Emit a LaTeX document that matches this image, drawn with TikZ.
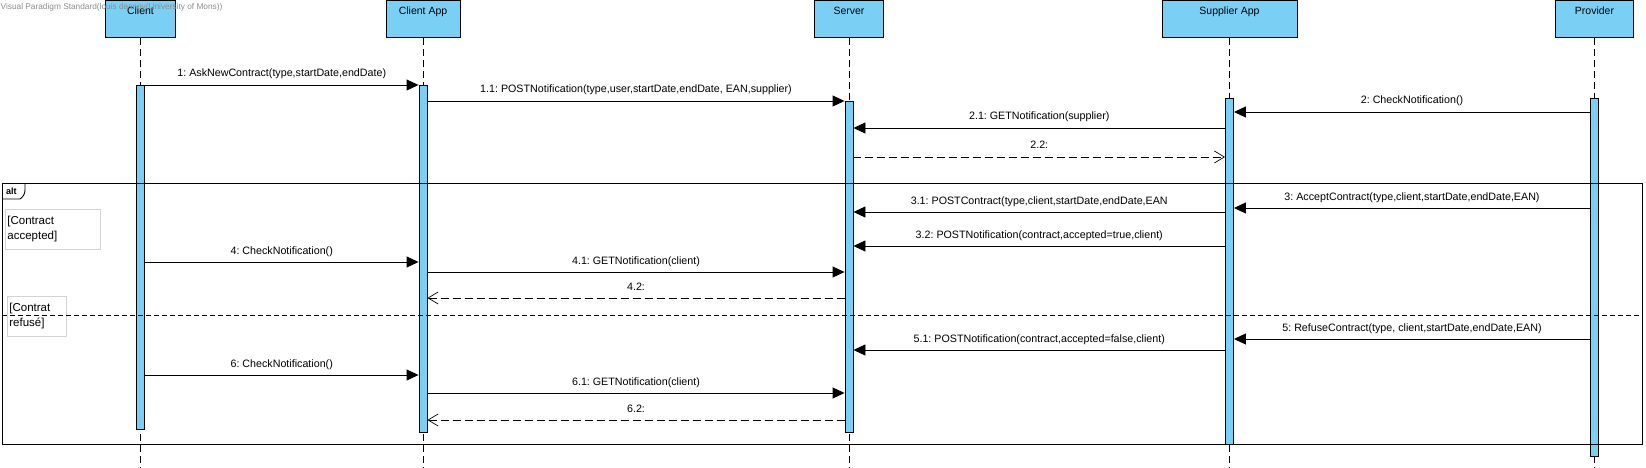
\documentclass[tikz,border=0pt]{standalone}
\usepackage{fontspec}
\setmainfont{Liberation Sans}
\usetikzlibrary{arrows.meta}
\definecolor{vpblue}{RGB}{122,207,245}
\definecolor{guardgray}{RGB}{212,212,212}
\definecolor{wmgray}{RGB}{140,140,140}
\frenchspacing
\begin{document}
\begin{tikzpicture}[x=1pt,y=-1pt,
  head/.style={draw=black, fill=vpblue, line width=0.9pt, anchor=north,
    minimum height=37pt, inner sep=0pt, text height=14pt, text depth=23pt,
    font=\fontsize{10.5}{12}\selectfont},
  life/.style={line width=0.8pt, dash pattern=on 7pt off 4pt},
  act/.style={draw=black, fill=vpblue, line width=0.9pt, inner sep=0pt, anchor=north, minimum width=8pt},
  syncmsg/.style={line width=0.9pt, -{Triangle[length=12pt,width=11pt]}},
  retmsg/.style={line width=0.8pt, dash pattern=on 8pt off 4pt, -{Straight Barb[length=10pt,width=12pt,line width=0.7pt]}},
  mlabel/.style={midway, anchor=base, yshift=8pt, inner sep=0pt, font=\fontsize{10.7}{12}\selectfont},
  guard/.style={draw=guardgray, fill=white, line width=0.8pt, anchor=north west, align=left,
    inner xsep=2pt, inner ysep=0pt, font=\fontsize{11.5}{15}\selectfont},
  sep/.style={line width=0.8pt, dash pattern=on 5pt off 3pt},
  frame/.style={line width=0.9pt}
]
\useasboundingbox (0,0) rectangle (1646,468);

% heads
\node[head, minimum width=70pt]  (hCl) at (140.5,0.5) {Client};
\node[head, minimum width=74pt]  (hCA) at (423,0.5) {Client App};
\node[head, minimum width=69pt]  (hSv) at (849,0.5) {Server};
\node[head, minimum width=135pt] (hSu) at (1229.5,0.5) {Supplier App};
\node[head, minimum width=78pt]  (hPr) at (1594.5,0.5) {Provider};

% lifelines
\foreach \h in {hCl,hCA,hSv,hSu,hPr}{
  \draw[life] (\h.south) -- (\h.south |- 0,470);
}

% activations
\node[act, minimum height=344pt] (aCl) at (140.5,85) {};
\node[act, minimum height=347pt] (aCA) at (423,85) {};
\node[act, minimum height=331pt] (aSv) at (849,101) {};
\node[act, minimum height=346pt] (aSu) at (1229.5,98) {};
\node[act, minimum height=358pt] (aPr) at (1594.5,98) {};

% watermark
\node[anchor=base west, inner sep=0pt, text=wmgray, font=\fontsize{8.3}{9}\selectfont] (wm) at (0.5,9.5)
  {Visual Paradigm Standard(louis dasnoy(University of Mons))};

% alt frame
\draw[frame] (2,183) rectangle (1642,444);
\draw[frame] (25,183) -- (25,190) .. controls (25,194) and (23,197) .. (20,199) -- (2,199);
\node[anchor=base west, inner sep=0pt, font=\bfseries\fontsize{9}{10}\selectfont] (altlbl) at (6,194) {alt};

% guards
\node[guard, minimum width=95pt, minimum height=40pt, text width=91pt] (g1) at (5,209) {[Contract\\accepted]};
\node[guard, minimum width=59pt, minimum height=40pt, text width=55pt] (g2) at (7,296) {[Contrat\\refusé]};

% separator
\draw[sep] (2,315) -- (1642,315);

% messages
\draw[syncmsg] (aCl.east |- 0,85) -- (aCA.west |- 0,85) node[mlabel] {1: AskNewContract(type,startDate,endDate)};
\draw[syncmsg] (aCA.east |- 0,101) -- (aSv.west |- 0,101) node[mlabel] {1.1: POSTNotification(type,user,startDate,endDate, EAN,supplier)};
\draw[syncmsg] (aPr.west |- 0,112) -- (aSu.east |- 0,112) node[mlabel] {2: CheckNotification()};
\draw[syncmsg] (aSu.west |- 0,128) -- (aSv.east |- 0,128) node[mlabel] {2.1: GETNotification(supplier)};
\draw[retmsg]  (aSv.east |- 0,157) -- (aSu.west |- 0,157) node[mlabel] {2.2:};

\draw[syncmsg] (aPr.west |- 0,208) -- (aSu.east |- 0,208) node[mlabel] {3: AcceptContract(type,client,startDate,endDate,EAN)};
\draw[syncmsg] (aSu.west |- 0,212) -- (aSv.east |- 0,212) node[mlabel] {3.1: POSTContract(type,client,startDate,endDate,EAN};
\draw[syncmsg] (aSu.west |- 0,246) -- (aSv.east |- 0,246) node[mlabel] {3.2: POSTNotification(contract,accepted=true,client)};
\draw[syncmsg] (aCl.east |- 0,262) -- (aCA.west |- 0,262) node[mlabel] {4: CheckNotification()};
\draw[syncmsg] (aCA.east |- 0,272) -- (aSv.west |- 0,272) node[mlabel] {4.1: GETNotification(client)};
\draw[retmsg]  (aSv.west |- 0,298) -- (aCA.east |- 0,298) node[mlabel] {4.2:};

\draw[syncmsg] (aPr.west |- 0,339) -- (aSu.east |- 0,339) node[mlabel] {5: RefuseContract(type, client,startDate,endDate,EAN)};
\draw[syncmsg] (aSu.west |- 0,350) -- (aSv.east |- 0,350) node[mlabel] {5.1: POSTNotification(contract,accepted=false,client)};
\draw[syncmsg] (aCl.east |- 0,375) -- (aCA.west |- 0,375) node[mlabel] {6: CheckNotification()};
\draw[syncmsg] (aCA.east |- 0,393) -- (aSv.west |- 0,393) node[mlabel] {6.1: GETNotification(client)};
\draw[retmsg]  (aSv.west |- 0,420) -- (aCA.east |- 0,420) node[mlabel] {6.2:};
\end{tikzpicture}
\end{document}
